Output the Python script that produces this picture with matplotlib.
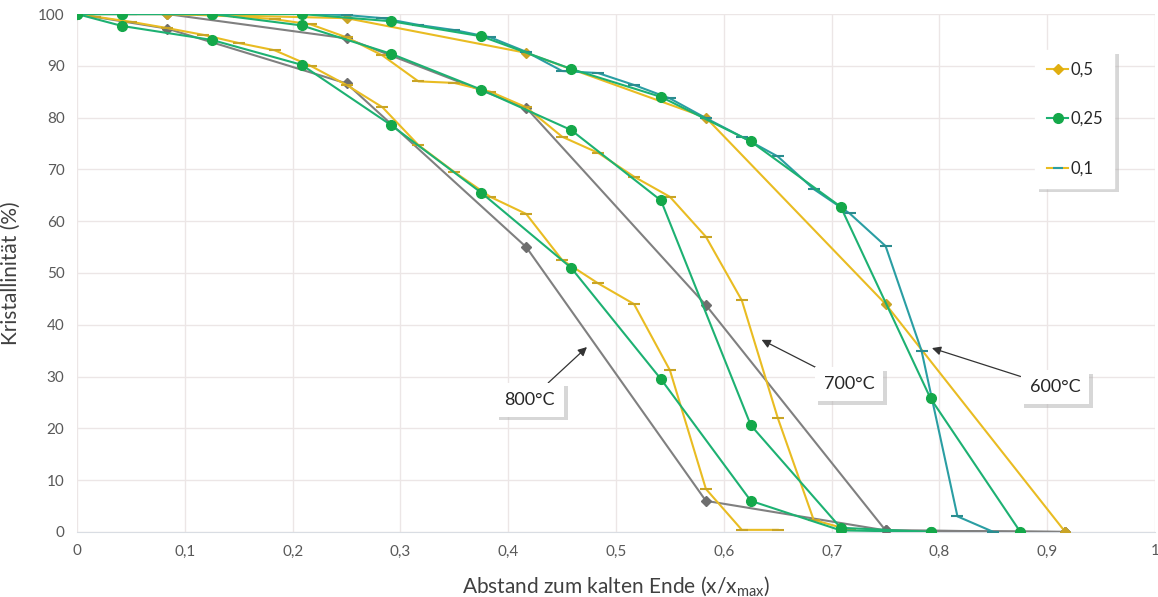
import matplotlib
matplotlib.use("Agg")
import matplotlib.pyplot as plt
from matplotlib.lines import Line2D
from matplotlib.ticker import FuncFormatter, MultipleLocator
import matplotlib.patheffects as pe

plt.rcParams['font.family'] = ['Lato', 'DejaVu Sans']

# x-Positionen der Messreihen (relativer Abstand)
x_05 = [0, 1/12, 3/12, 5/12, 7/12, 9/12, 11/12]
x_025 = [0, 1/24, 3/24, 5/24, 7/24, 9/24, 11/24, 13/24, 15/24, 17/24, 19/24, 21/24]
x_01 = [0] + [k / 60 for k in range(1, 52, 2)]

# 800 °C
y800_05 = [100, 97.2, 86.6, 55.0, 6.0, 0.3, 0]
y800_025 = [100, 97.7, 95.0, 90.2, 78.5, 65.5, 51.0, 29.5, 6.0, 0.3, 0]
y800_01 = [100, 99.5, 98.5, 97.3, 96.0, 94.4, 93.0, 90.0, 86.3, 82.0, 74.7,
           69.5, 64.7, 61.4, 52.5, 48.0, 44.0, 31.2, 8.3, 0.4, 0.4]

# 700 °C
y700_05 = [100, 100, 95.3, 81.9, 43.8, 0.3, 0]
y700_025 = [100, 100, 100, 97.8, 92.3, 85.4, 77.6, 64.0, 20.6, 0.8, 0]
y700_01 = [100, 100, 100, 100, 99.8, 99.5, 99.0, 98.0, 95.5, 92.0, 87.0, 86.7,
           85.0, 82.0, 76.3, 73.2, 68.6, 64.7, 57.0, 44.7, 22.0, 2.3, 0.4]

# 600 °C
y600_05 = [100, 100, 99.2, 92.5, 80.0, 44.0, 0]
y600_025 = [100, 100, 100, 100, 98.6, 95.7, 89.4, 84.0, 75.4, 62.8, 25.8, 0]
y600_01 = [100, 100, 100, 100, 100, 100, 100, 100, 99.8, 99.2, 97.9, 96.9,
           95.5, 92.7, 89.0, 88.6, 86.3, 83.7, 79.9, 76.3, 72.5, 66.2, 61.5,
           55.2, 35.0, 3.0, 0]

gray = "#808080"
green_line = "#1db172"
green_mk = "#14a84a"
yellow = "#e9bc22"
yellow_mk = "#c9a425"
teal = "#2a9ea3"

fig = plt.figure(figsize=(11.58, 5.97), dpi=100)
ax = fig.add_axes([0.0665, 0.109, 0.931, 0.8675])

lw = 1.5
# 800 und 700 °C: 0,5 grau, 0,25 grün, 0,1 gelb
for y05, y025, y01 in [(y800_05, y800_025, y800_01), (y700_05, y700_025, y700_01)]:
    ax.plot(x_05[:len(y05)], y05, color=gray, lw=lw, marker="D", ms=5,
            mfc="#6e6e6e", mec="#6e6e6e", zorder=3)
    ax.plot(x_01[:len(y01)], y01, color=yellow, lw=lw, marker="_", ms=8,
            mew=1.5, mec=yellow_mk, zorder=3)
    ax.plot(x_025[:len(y025)], y025, color=green_line, lw=lw, marker="o", ms=7,
            mfc=green_mk, mec=green_mk, zorder=4)

# 600 °C: 0,5 gelb, 0,25 grün, 0,1 türkis
ax.plot(x_05, y600_05, color=yellow, lw=lw, marker="D", ms=5,
        mfc=yellow_mk, mec=yellow_mk, zorder=3)
ax.plot(x_01, y600_01, color=teal, lw=lw, marker="_", ms=8, mew=1.5,
        mec="#2b8c8f", zorder=3)
ax.plot(x_025, y600_025, color=green_line, lw=lw, marker="o", ms=7,
        mfc=green_mk, mec=green_mk, zorder=4)

ax.set_xlim(0, 1)
ax.set_ylim(0, 100)
ax.xaxis.set_major_locator(MultipleLocator(0.1))
ax.yaxis.set_major_locator(MultipleLocator(10))
ax.xaxis.set_major_formatter(FuncFormatter(lambda v, p: ("%g" % round(v, 1)).replace(".", ",")))
ax.grid(True, color="#ece6e6", lw=1)
ax.set_axisbelow(True)
for s in ["top", "right", "left"]:
    ax.spines[s].set_visible(False)
ax.spines["bottom"].set_color("#d9dde3")
ax.tick_params(length=0, labelsize=11, colors="#595959", pad=9)

ax.set_xlabel("Abstand zum kalten Ende (x/x$_{\\mathregular{max}}$)", fontsize=15,
              color="#404040", labelpad=12)
ax.set_ylabel("Kristallinität (%)", fontsize=15, color="#404040", labelpad=12)

# Temperaturbeschriftungen mit Pfeilen
shadow = [pe.withSimplePatchShadow(offset=(2.5, -2.5), shadow_rgbFace="#b0b0b0", alpha=0.5)]
for label, xy, xytext in [("800°C", (0.473, 35.7), (0.42, 25.5)),
                          ("700°C", (0.635, 37.1), (0.716, 28.5)),
                          ("600°C", (0.793, 35.5), (0.907, 27.9))]:
    t = ax.annotate(label, xy=xy, xytext=xytext, ha="center", va="center",
                    fontsize=13, color="#262626", zorder=6,
                    bbox=dict(boxstyle="square,pad=0.5", fc="white", ec="none"),
                    arrowprops=dict(arrowstyle="-|>", color="#333333", lw=0.9,
                                    mutation_scale=13, shrinkA=0, shrinkB=0))
    t.get_bbox_patch().set_path_effects(shadow)

handles = [
    Line2D([], [], color=yellow, lw=lw, marker="D", ms=5, mfc="#e0ae10", mec="#e0ae10"),
    Line2D([], [], color=green_line, lw=lw, marker="o", ms=7, mfc=green_mk, mec=green_mk),
    Line2D([], [], color=yellow, lw=lw, marker="_", ms=7, mew=1.5, mec=teal),
]
leg = ax.legend(handles, ["0,5", "0,25", "0,1"], loc="upper left",
                bbox_to_anchor=(0.8887, 0.9305), fontsize=12, handlelength=1.3,
                handletextpad=0.1, labelspacing=2.0, borderpad=0.7,
                borderaxespad=0, fancybox=False, framealpha=1, edgecolor="white")
for txt in leg.get_texts():
    txt.set_color("#262626")
leg.get_frame().set_path_effects([pe.withSimplePatchShadow(offset=(3, -3),
                                  shadow_rgbFace="#b0b0b0", alpha=0.5)])
leg.set_zorder(7)

fig.savefig("out.png", dpi=100)
